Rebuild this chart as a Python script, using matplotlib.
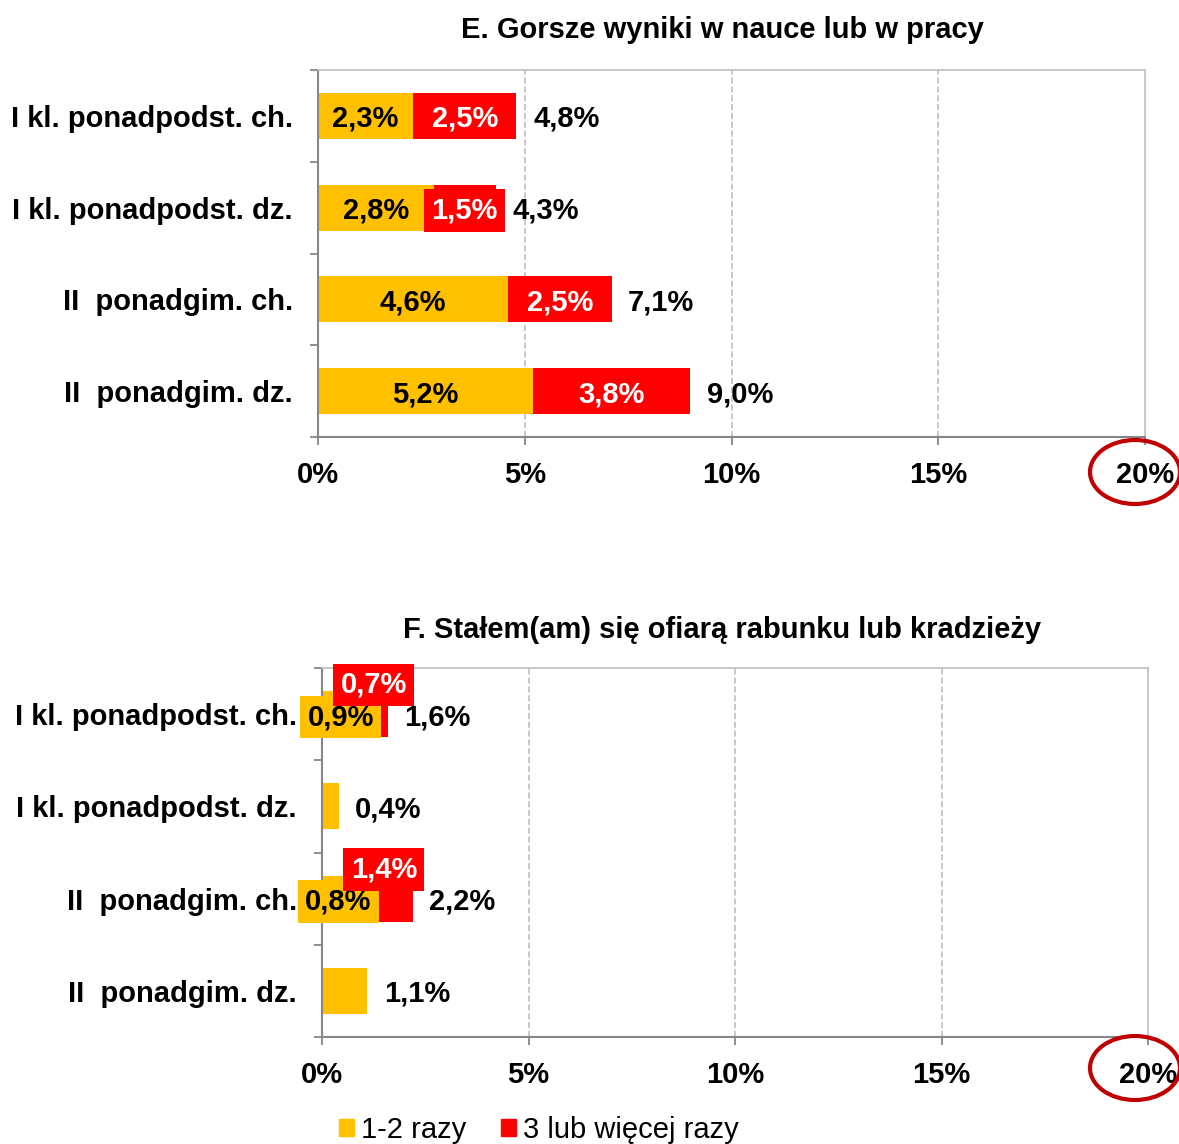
import matplotlib
matplotlib.use('Agg')
import matplotlib.pyplot as plt
from matplotlib.patches import Ellipse, Patch

plt.rcParams['font.family'] = ['Liberation Sans', 'DejaVu Sans']

categories = ['I kl. ponadpodst. ch.', 'I kl. ponadpodst. dz.',
              'II  ponadgim. ch.', 'II  ponadgim. dz.']

e_title = 'E. Gorsze wyniki w nauce lub w pracy'
e_low = [2.3, 2.8, 4.6, 5.2]
e_high = [2.5, 1.5, 2.5, 3.8]
e_total = [4.8, 4.3, 7.1, 9.0]

f_title = 'F. Stałem(am) się ofiarą rabunku lub kradzieży'
f_low = [0.9, 0.4, 0.8, 1.1]
f_high = [0.7, 0.0, 1.4, 0.0]
f_total = [1.6, 0.4, 2.2, 1.1]

x_ticks = [0, 5, 10, 15, 20]
legend_labels = ['1-2 razy', '3 lub więcej razy']

YELLOW = '#FFC000'
RED = '#FF0000'
W = 1179
H = 1144
FS = 21


def pct(v):
    return f'{v:.1f}%'.replace('.', ',')


def box(color):
    return dict(boxstyle='square,pad=0.25', fc=color, ec='none')


def draw_panel(ax, title, low, high, total, title_y, small):
    y = list(range(len(categories)))
    ax.barh(y, low, height=0.5, color=YELLOW)
    ax.barh(y, high, left=low, height=0.5, color=RED)

    va = 'center_baseline'
    for i in y:
        lo, hi, tot = low[i], high[i], total[i]
        if hi > 0:
            if small:
                # narrow segments: labels on boxes, red one lifted above the bar
                ax.text(lo / 2, i, pct(lo), ha='center', va=va,
                        fontsize=FS, fontweight='bold', color='black',
                        bbox=box(YELLOW))
                ax.text(lo + hi / 2, i - 0.35, pct(hi), ha='center', va=va,
                        fontsize=FS, fontweight='bold', color='white',
                        bbox=box(RED))
            else:
                ax.text(lo / 2, i, pct(lo), ha='center', va=va,
                        fontsize=FS, fontweight='bold', color='black')
                ax.text(lo + hi / 2, i, pct(hi), ha='center', va=va,
                        fontsize=FS, fontweight='bold', color='white',
                        bbox=box(RED) if hi < 2 else None)
        ax.text(lo + hi + 0.4, i, pct(tot), ha='left', va=va,
                fontsize=FS, fontweight='bold', color='black')

    ax.set_xlim(0, 20)
    ax.set_ylim(len(categories) - 0.5, -0.5)
    ax.set_xticks(x_ticks)
    ax.set_xticklabels([f'{t}%' for t in x_ticks], fontsize=FS, fontweight='bold')
    ax.set_yticks(y)
    ax.set_yticklabels(categories, fontsize=FS, fontweight='bold')
    ax.set_yticks([v - 0.5 for v in range(len(categories) + 1)], minor=True)
    ax.tick_params(axis='y', which='major', length=0, pad=18)
    ax.tick_params(axis='y', which='minor', length=6, color='#868686', width=1.3)
    ax.tick_params(axis='x', length=6, color='#868686', width=1.3, pad=11)

    for t in x_ticks[1:-1]:
        ax.axvline(t, color='#BFBFBF', ls='--', lw=1.2, zorder=0)
    for s in ('top', 'right'):
        ax.spines[s].set_color('#BFBFBF')
        ax.spines[s].set_linewidth(1.2)
    for s in ('left', 'bottom'):
        ax.spines[s].set_color('#868686')
        ax.spines[s].set_linewidth(1.5)

    fig.text(722 / W, 1 - title_y / H, title, ha='center', va='center',
             fontsize=FS, fontweight='bold')


fig = plt.figure(figsize=(W / 100, H / 100), dpi=100)
ax_e = fig.add_axes([318 / W, 1 - 437 / H, 827 / W, 367 / H])
ax_f = fig.add_axes([322 / W, 1 - 1037 / H, 826 / W, 369 / H])

draw_panel(ax_e, e_title, e_low, e_high, e_total, 30, False)
draw_panel(ax_f, f_title, f_low, f_high, f_total, 630, True)

# red rings around the 20% labels
for cy in (472, 1068):
    fig.add_artist(Ellipse((1135 / W, 1 - cy / H), 90 / W, 64 / H,
                           transform=fig.transFigure, fill=False,
                           ec='#C00000', lw=3))

handles = [Patch(color=YELLOW), Patch(color=RED)]
fig.legend(handles, legend_labels, loc='center', ncol=2, frameon=False,
           bbox_to_anchor=(539 / W, 1 - 1130 / H), fontsize=FS,
           handlelength=0.5, handleheight=0.5, handletextpad=0.25,
           columnspacing=1.2, borderpad=0)

fig.savefig('out.png', dpi=100)
